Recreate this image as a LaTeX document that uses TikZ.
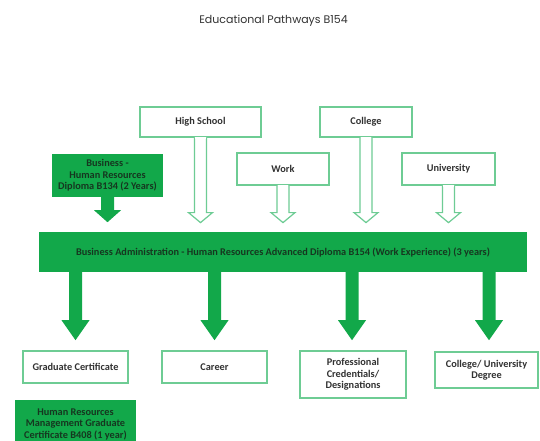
\documentclass[tikz,border=0pt]{standalone}
\usepackage{fontspec}
\setmainfont{Carlito}
\newfontfamily\titlefont{Poppins}
\usetikzlibrary{calc}
\definecolor{gfill}{RGB}{18,168,74}
\definecolor{gline}{RGB}{110,204,148}
\definecolor{txt}{RGB}{50,50,50}
\definecolor{gtxt}{RGB}{22,55,32}
\tikzset{
  wbox/.style={draw=gline, line width=1.2pt, fill=white, text=txt, align=center,
    font=\fontsize{10.3}{11.5}\selectfont\bfseries, inner sep=1pt},
  gbox/.style={fill=gfill, draw=none, text=gtxt, align=center,
    font=\fontsize{10.3}{11.5}\selectfont\bfseries, inner sep=1pt},
  harrow/.style={draw=gline, line width=1.2pt, fill=white},
  garrow/.style={fill=gfill, draw=none},
}
\begin{document}
\begin{tikzpicture}[x=1pt,y=-1pt]
\clip (0,0) rectangle (540,440);
\fill[white] (0,0) rectangle (540,440);

\node[text=txt, font=\titlefont\fontsize{11}{13}\selectfont] (title) at (273.5,21) {Educational Pathways B154};

% top boxes
\node[wbox, minimum width=121pt, minimum height=30pt] (hs) at (200.5,122) {High School};
\node[wbox, minimum width=92pt, minimum height=32pt] (work) at (283,169) {Work};
\node[wbox, minimum width=92pt, minimum height=30pt] (col) at (366,122) {College};
\node[wbox, minimum width=93pt, minimum height=32pt] (uni) at (448.5,169) {University};

\node[gbox, minimum width=111pt, minimum height=43pt] (bus) at (107.5,175.5) {Business -\\Human Resources\\Diploma B134 (2 Years)};

% main bar
\node[gbox, minimum width=488pt, minimum height=40pt] (main) at (283,252) {Business Administration - Human Resources Advanced Diploma B154 (Work Experience) (3 years)};

% hollow arrows
\foreach \n/\L in {hs/75, col/75, work/27, uni/27}{
  \draw[harrow] (\n.south) ++(-6,0) -- ++(0,\L) -- ++(-6,0) -- ++(12,10) -- ++(12,-10) -- ++(-6,0) -- ++(0,-\L);
  \draw[white, line width=2pt] (\n.south) ++(-5.3,0) -- ++(10.6,0);
}

% green arrow from business box
\fill[garrow] (bus.south) ++(-6.5,0) -- ++(0,13) -- ++(-7,0) -- ++(13.5,12) -- ++(13.5,-12) -- ++(-7,0) -- ++(0,-13) -- cycle;

% bottom boxes
\node[wbox, minimum width=105pt, minimum height=32pt] (gc) at (75.5,367) {Graduate Certificate};
\node[wbox, minimum width=105pt, minimum height=32pt] (car) at (214.5,367) {Career};
\node[wbox, minimum width=106pt, minimum height=47pt] (prof) at (353,374.5) {Professional\\Credentials/\\Designations};
\node[wbox, minimum width=103pt, minimum height=36pt] (cud) at (486.5,370) {College/ University\\Degree};

\node[gbox, minimum width=121pt, minimum height=48pt] (hrm) at (75.5,424) {Human Resources\\Management Graduate\\Certificate B408 (1 year)};

% green down arrows from main bar
\foreach \x in {75.5, 214.5, 352, 489}{
  \coordinate (s) at (main.south -| \x,0);
  \fill[garrow] (s) ++(-6.5,-1) -- ++(0,49) -- ++(-7.5,0) -- ++(14,20) -- ++(14,-20) -- ++(-7.5,0) -- ++(0,-49) -- cycle;
}
\end{tikzpicture}
\end{document}
